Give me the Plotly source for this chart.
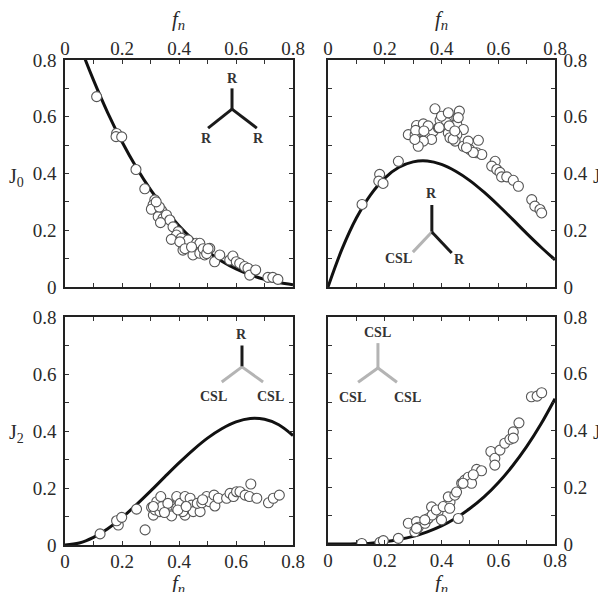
import plotly.graph_objects as go

# ---------------- data ----------------
curve_f = [0, 0.05, 0.1, 0.15, 0.2, 0.25, 0.3, 0.35, 0.4, 0.45, 0.5, 0.55, 0.6, 0.65, 0.7, 0.75, 0.8]
curve_J0 = [1.0, 0.857, 0.729, 0.614, 0.512, 0.422, 0.343, 0.275, 0.216, 0.166, 0.125, 0.091, 0.064, 0.043, 0.027, 0.016, 0.008]
curve_J1 = [0, 0.135, 0.243, 0.325, 0.384, 0.422, 0.441, 0.444, 0.432, 0.408, 0.375, 0.334, 0.288, 0.239, 0.189, 0.141, 0.096]
curve_J2 = [0, 0.007, 0.027, 0.057, 0.096, 0.141, 0.189, 0.239, 0.288, 0.334, 0.375, 0.408, 0.432, 0.444, 0.441, 0.422, 0.384]
curve_J3 = [0, 0.0001, 0.001, 0.003, 0.008, 0.016, 0.027, 0.043, 0.064, 0.091, 0.125, 0.166, 0.216, 0.275, 0.343, 0.422, 0.512]

j0_f = [0.111, 0.181, 0.179, 0.199, 0.249, 0.280, 0.315, 0.309, 0.303, 0.338, 0.327, 0.344, 0.356, 0.368, 0.335,
        0.379, 0.397, 0.391, 0.373, 0.408, 0.420, 0.432, 0.414, 0.449, 0.461, 0.473, 0.449, 0.473, 0.490, 0.508,
        0.525, 0.543, 0.578, 0.589, 0.601, 0.613, 0.630, 0.642, 0.648, 0.669, 0.712, 0.729, 0.747, 0.331, 0.403,
        0.421, 0.444, 0.485, 0.497, 0.502, 0.320]
j0_v = [0.671, 0.541, 0.530, 0.529, 0.414, 0.346, 0.307, 0.289, 0.274, 0.271, 0.248, 0.242, 0.254, 0.236, 0.227,
        0.212, 0.195, 0.183, 0.168, 0.172, 0.154, 0.166, 0.130, 0.133, 0.154, 0.154, 0.113, 0.119, 0.113, 0.136,
        0.089, 0.113, 0.095, 0.109, 0.089, 0.083, 0.072, 0.066, 0.042, 0.060, 0.034, 0.034, 0.027, 0.282, 0.159,
        0.135, 0.141, 0.135, 0.118, 0.135, 0.300]

j1_f = [0.120, 0.182, 0.179, 0.194, 0.248, 0.283, 0.307, 0.312, 0.336, 0.342, 0.371, 0.389, 0.395, 0.418, 0.454,
        0.454, 0.424, 0.477, 0.454, 0.430, 0.365, 0.336, 0.318, 0.448, 0.477, 0.494, 0.530, 0.500, 0.524, 0.542,
        0.589, 0.577, 0.595, 0.606, 0.612, 0.630, 0.653, 0.671, 0.718, 0.729, 0.747, 0.753, 0.377, 0.400, 0.424,
        0.463, 0.309, 0.353, 0.392, 0.427, 0.441, 0.447, 0.459, 0.512, 0.488, 0.338, 0.306]
j1_v = [0.291, 0.397, 0.373, 0.365, 0.443, 0.537, 0.537, 0.569, 0.575, 0.537, 0.549, 0.561, 0.588, 0.579, 0.596,
        0.573, 0.543, 0.555, 0.537, 0.526, 0.520, 0.514, 0.496, 0.514, 0.496, 0.514, 0.517, 0.484, 0.473, 0.467,
        0.443, 0.426, 0.414, 0.404, 0.388, 0.388, 0.376, 0.355, 0.308, 0.285, 0.273, 0.261, 0.628, 0.602, 0.614,
        0.620, 0.552, 0.568, 0.562, 0.568, 0.521, 0.550, 0.597, 0.474, 0.491, 0.550, 0.520]

j2_f = [0.123, 0.187, 0.181, 0.199, 0.251, 0.281, 0.304, 0.310, 0.322, 0.336, 0.316, 0.333, 0.339, 0.368, 0.374,
        0.392, 0.392, 0.404, 0.421, 0.425, 0.421, 0.439, 0.444, 0.450, 0.474, 0.464, 0.480, 0.497, 0.506, 0.526,
        0.523, 0.538, 0.567, 0.579, 0.591, 0.602, 0.614, 0.632, 0.652, 0.647, 0.673, 0.714, 0.731, 0.752, 0.361,
        0.349, 0.413, 0.483, 0.310, 0.396, 0.425]
j2_v = [0.039, 0.070, 0.085, 0.097, 0.126, 0.053, 0.132, 0.105, 0.152, 0.170, 0.123, 0.117, 0.134, 0.140, 0.102,
        0.170, 0.129, 0.146, 0.170, 0.129, 0.105, 0.164, 0.140, 0.117, 0.117, 0.146, 0.148, 0.170, 0.152, 0.137,
        0.175, 0.164, 0.164, 0.181, 0.170, 0.187, 0.187, 0.175, 0.214, 0.170, 0.164, 0.148, 0.164, 0.175, 0.146,
        0.114, 0.117, 0.159, 0.135, 0.123, 0.135]

j3_f = [0.119, 0.183, 0.195, 0.248, 0.283, 0.312, 0.306, 0.318, 0.342, 0.353, 0.371, 0.365, 0.388, 0.400, 0.418,
        0.430, 0.424, 0.447, 0.453, 0.459, 0.471, 0.482, 0.494, 0.506, 0.524, 0.541, 0.574, 0.588, 0.588, 0.606,
        0.623, 0.641, 0.653, 0.653, 0.673, 0.717, 0.737, 0.753, 0.312, 0.367, 0.382, 0.406, 0.429, 0.476, 0.512,
        0.341]
j3_v = [0.002, 0.006, 0.012, 0.020, 0.073, 0.079, 0.043, 0.059, 0.073, 0.090, 0.107, 0.131, 0.114, 0.085, 0.137,
        0.148, 0.166, 0.172, 0.183, 0.090, 0.214, 0.225, 0.235, 0.214, 0.263, 0.258, 0.326, 0.302, 0.278, 0.331,
        0.355, 0.369, 0.395, 0.373, 0.427, 0.519, 0.521, 0.533, 0.055, 0.102, 0.120, 0.132, 0.126, 0.214, 0.244,
        0.085]

tick_vals = [0, 0.2, 0.4, 0.6, 0.8]
tick_text = ["0", "0.2", "0.4", "0.6", "0.8"]

# ---------------- figure ----------------
# the page body has an 8px margin, so the figure is placed 8px in from the window corner
OFF = 8
W, H = 606 - OFF, 592 - OFF
FONT = "Liberation Serif"
TXT = "#2a2a2a"

def px_x(a, b):
    return [(a - OFF) / W, (b - OFF) / W]

def px_y(top, bottom):
    return [1 - (bottom - OFF) / H, 1 - (top - OFF) / H]

def pt(xp, yp):
    return (xp - OFF) / W, 1 - (yp - OFF) / H

panels = [
    dict(curve=curve_J0, xs=j0_f, ys=j0_v, xd=px_x(65, 293), yd=px_y(60, 287), xside="top", yside="left"),
    dict(curve=curve_J1, xs=j1_f, ys=j1_v, xd=px_x(328, 555), yd=px_y(60, 287), xside="top", yside="right"),
    dict(curve=curve_J2, xs=j2_f, ys=j2_v, xd=px_x(65, 293), yd=px_y(317, 545), xside="bottom", yside="left"),
    dict(curve=curve_J3, xs=j3_f, ys=j3_v, xd=px_x(328, 555), yd=px_y(317, 544), xside="bottom", yside="right"),
]

fig = go.Figure()
layout = dict(
    width=W, height=H, margin=dict(l=0, r=0, t=0, b=0, pad=0, autoexpand=False),
    paper_bgcolor="white", plot_bgcolor="white", showlegend=False,
    font=dict(family=FONT, size=19, color=TXT),
)

for i, p in enumerate(panels, start=1):
    xa = "x" if i == 1 else f"x{i}"
    ya = "y" if i == 1 else f"y{i}"
    fig.add_trace(go.Scatter(x=curve_f, y=p["curve"], mode="lines", xaxis=xa, yaxis=ya,
                             line=dict(color="#111111", width=3, shape="spline"), hoverinfo="skip"))
    fig.add_trace(go.Scatter(x=p["xs"], y=p["ys"], mode="markers", xaxis=xa, yaxis=ya,
                             marker=dict(symbol="circle", size=10, color="white",
                                         line=dict(color="#555555", width=1.1))))
    common = dict(range=[0, 0.8], tickvals=tick_vals, ticktext=tick_text, ticks="inside", ticklen=4,
                  tickwidth=1, tickcolor="#333", showline=True, linecolor="#222", linewidth=1.5,
                  mirror="ticks", showgrid=False, zeroline=False, fixedrange=True, automargin=False,
                  minor=dict(ticks="inside", tickvals=[0.1, 0.3, 0.5, 0.7], ticklen=4, tickcolor="#333"),
                  tickfont=dict(family=FONT, size=19, color=TXT))
    layout["xaxis" if i == 1 else f"xaxis{i}"] = dict(common, domain=p["xd"], anchor=ya, side=p["xside"],
                                                      ticklabelstandoff=(-4 if p["xside"] == "top" else -2))
    layout["yaxis" if i == 1 else f"yaxis{i}"] = dict(common, domain=p["yd"], anchor=xa, side=p["yside"],
                                                      ticklabelstandoff=3)

fig.update_layout(**layout)

# axis titles
ann = []
for xc, yc in [(179, 20), (441, 20), (179, 584), (441, 584)]:
    x, y = pt(xc, yc)
    ann.append(dict(x=x, y=y, xref="paper", yref="paper", showarrow=False, xanchor="center", yanchor="middle",
                    text="<i>f<sub>n</sub></i>", font=dict(family=FONT, size=21, color=TXT)))
for xc, yc, t in [(16, 177, "J<sub>0</sub>"), (600, 177, "J<sub>1</sub>"),
                  (16, 433, "J<sub>2</sub>"), (600, 433, "J<sub>3</sub>")]:
    x, y = pt(xc, yc)
    ann.append(dict(x=x, y=y, xref="paper", yref="paper", showarrow=False, xanchor="center", yanchor="middle",
                    text=t, font=dict(family=FONT, size=20, color=TXT)))

# structure diagrams (Y shapes)
BLACK, GREY = "#1a1a1a", "#b4b4b4"
def tree(xr, yr, c, top, left, right, cols, labels, lpos):
    shapes = []
    for (x1, y1), col in zip([top, left, right], cols):
        shapes.append(dict(type="line", xref=xr, yref=yr, x0=c[0], y0=c[1], x1=x1, y1=y1,
                           line=dict(color=col, width=3)))
    for (lx, ly), lt in zip(lpos, labels):
        ann.append(dict(x=lx, y=ly, xref=xr, yref=yr, showarrow=False, text=f"<b>{lt}</b>",
                        xanchor="center", yanchor="middle",
                        font=dict(family=FONT, size=14, color="#333")))
    return shapes

shapes = []
shapes += tree("x", "y", (0.586, 0.627), (0.586, 0.70), (0.502, 0.56), (0.673, 0.56),
               [BLACK, BLACK, BLACK], ["R", "R", "R"],
               [(0.586, 0.735), (0.495, 0.525), (0.68, 0.525)])
shapes += tree("x2", "y2", (0.366, 0.194), (0.366, 0.289), (0.299, 0.123), (0.436, 0.12),
               [BLACK, GREY, BLACK], ["R", "CSL", "R"],
               [(0.366, 0.33), (0.25, 0.1), (0.462, 0.098)])
shapes += tree("x3", "y3", (0.621, 0.625), (0.621, 0.70), (0.55, 0.572), (0.695, 0.572),
               [BLACK, GREY, GREY], ["R", "CSL", "CSL"],
               [(0.621, 0.738), (0.52, 0.52), (0.72, 0.52)])
shapes += tree("x4", "y4", (0.176, 0.62), (0.176, 0.708), (0.106, 0.57), (0.243, 0.57),
               [GREY, GREY, GREY], ["CSL", "CSL", "CSL"],
               [(0.176, 0.745), (0.085, 0.517), (0.28, 0.517)])

fig.update_layout(annotations=ann, shapes=shapes)
fig.write_html("out.html")
